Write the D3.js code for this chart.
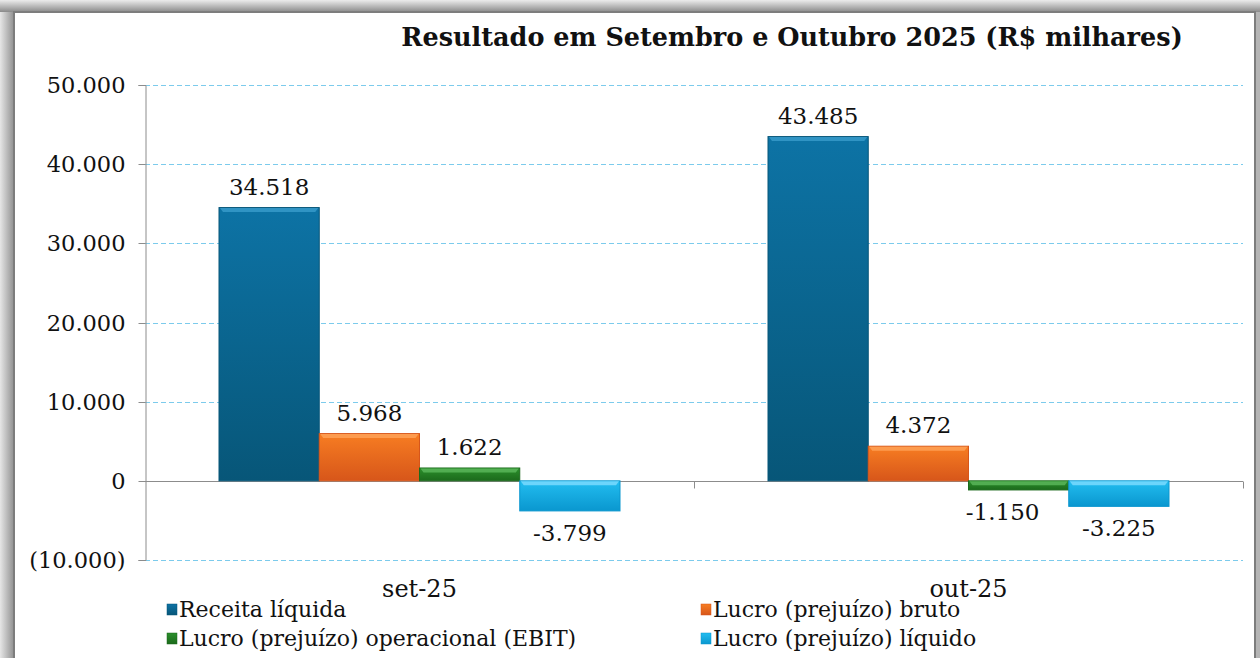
<!DOCTYPE html>
<html>
<head>
<meta charset="utf-8">
<script src="https://cdn.jsdelivr.net/npm/d3@7"></script>
<style>
	body { margin: 0; background: #fff; }
	svg { display: block; }
	text { font-family: "DejaVu Serif", serif; fill: #111; }
</style>
</head>
<body>
<div id="chart"></div>
<script>
// data
let categories = ["set-25", "out-25"];
let seriesNames = ["Receita líquida", "Lucro (prejuízo) bruto", "Lucro (prejuízo) operacional (EBIT)", "Lucro (prejuízo) líquido"];
let receita = [34518, 43485];
let bruto = [5968, 4372];
let ebit = [1622, -1150];
let liquido = [-3799, -3225];
let yTicks = [-10000, 0, 10000, 20000, 30000, 40000, 50000];
let titleText = "Resultado em Setembro e Outubro 2025 (R$ milhares)";

let colors = [
	{top: "#0d73a5", bottom: "#075678", light: "#3a9ccc"},
	{top: "#f77d22", bottom: "#d7561a", light: "#ffa45a"},
	{top: "#2b8f2b", bottom: "#1c6a1c", light: "#5cb85c"},
	{top: "#22bdf0", bottom: "#0a97cf", light: "#7fdcff"}
];

var width = 1260, height = 658;
var margin = {top: 85, right: 17, bottom: 97, left: 145};

var locale = d3.formatLocale({decimal: ",", thousands: ".", grouping: [3], currency: ["R$", ""], minus: "-"});
var fmt = locale.format(",.0f");

var svg = d3.select("#chart").append("svg")
	.attr("width", width)
	.attr("height", height);

var defs = svg.append("defs");

// frame gradients
var fg = defs.append("linearGradient").attr("id", "frameLeft").attr("x1", 0).attr("x2", 1).attr("y1", 0).attr("y2", 0);
fg.append("stop").attr("offset", "0%").attr("stop-color", "#e6e6e6");
fg.append("stop").attr("offset", "100%").attr("stop-color", "#8a8a8a");
var ft = defs.append("linearGradient").attr("id", "frameTop").attr("x1", 0).attr("x2", 0).attr("y1", 0).attr("y2", 1);
ft.append("stop").attr("offset", "0%").attr("stop-color", "#ececec");
ft.append("stop").attr("offset", "100%").attr("stop-color", "#8a8a8a");

colors.forEach(function(c, i) {
	var g = defs.append("linearGradient").attr("id", "bar" + i)
		.attr("x1", 0).attr("x2", 0).attr("y1", 0).attr("y2", 1);
	g.append("stop").attr("offset", "0%").attr("stop-color", c.top);
	g.append("stop").attr("offset", "100%").attr("stop-color", c.bottom);
});

// outer frame
svg.append("rect").attr("x", 0).attr("y", 0).attr("width", width).attr("height", height).attr("fill", "#b5b5b5");
svg.append("rect").attr("x", 0).attr("y", 0).attr("width", 15).attr("height", height).attr("fill", "url(#frameLeft)");
svg.append("rect").attr("x", 0).attr("y", 0).attr("width", width).attr("height", 12).attr("fill", "url(#frameTop)");
svg.append("rect").attr("x", 14).attr("y", 12).attr("width", 1241).attr("height", 660)
	.attr("fill", "#fff").attr("stroke", "#7d7d7d").attr("stroke-width", 2);

var plotW = width - margin.left - margin.right;
var x0 = d3.scaleBand().domain(categories).range([margin.left, margin.left + plotW]);
var x1 = d3.scaleBand().domain(d3.range(4)).range([0, 401]);
var y = d3.scaleLinear().domain([-10000, 50000]).range([560, 85]);
var py = d => Math.round(y(d)) + 0.5;

// gridlines
svg.append("g").selectAll("line")
	.data(yTicks.filter(d => d !== 0))
	.enter().append("line")
	.attr("x1", margin.left).attr("x2", margin.left + plotW)
	.attr("y1", d => py(d)).attr("y2", d => py(d))
	.attr("stroke", "#7ccbec").attr("stroke-width", 1).attr("stroke-dasharray", "5,3");

// y axis
var yAxis = d3.axisLeft(y).tickValues(yTicks).tickSize(7).tickPadding(13)
	.tickFormat(d => d < 0 ? "(" + fmt(-d) + ")" : fmt(d));
var gy = svg.append("g").attr("transform", "translate(" + (margin.left + 0.5) + ",0)").call(yAxis);
gy.selectAll(".tick").attr("transform", d => "translate(0," + py(d) + ")");
gy.select(".domain").attr("stroke", "#8c8c8c");
gy.selectAll(".tick line").attr("stroke", "#8c8c8c");
gy.selectAll(".tick text").style("font-size", "22.5px").style("font-family", "DejaVu Serif").attr("fill", "#111");

// zero line + category ticks
svg.append("line").attr("x1", margin.left).attr("x2", margin.left + plotW)
	.attr("y1", py(0)).attr("y2", py(0)).attr("stroke", "#8c8c8c");
svg.append("g").selectAll("line")
	.data(categories.slice(1).map(c => x0(c)).concat([margin.left + plotW]))
	.enter().append("line")
	.attr("x1", d => Math.round(d) + 0.5).attr("x2", d => Math.round(d) + 0.5)
	.attr("y1", py(0)).attr("y2", py(0) + 7)
	.attr("stroke", "#8c8c8c");

// category labels
svg.append("g").selectAll("text")
	.data(categories).enter().append("text")
	.attr("x", d => x0(d) + x0.bandwidth() / 2)
	.attr("y", 597)
	.attr("text-anchor", "middle")
	.style("font-size", "24px")
	.text(d => d);

// bars
let series = [receita, bruto, ebit, liquido];
var rows = [];
categories.forEach(function(c, ci) {
	series.forEach(function(s, si) {
		rows.push({cat: c, idx: si, value: s[ci]});
	});
});
var groupOffset = (x0.bandwidth() - 401) / 2;

var bars = svg.append("g").selectAll("g")
	.data(rows).enter().append("g")
	.attr("transform", d => "translate(" + (x0(d.cat) + groupOffset + x1(d.idx)) + ",0)");

bars.append("rect")
	.attr("x", 0)
	.attr("y", d => Math.min(y(d.value), y(0)))
	.attr("width", x1.bandwidth())
	.attr("height", d => Math.abs(y(d.value) - y(0)))
	.attr("fill", d => "url(#bar" + d.idx + ")")
	.attr("stroke", d => colors[d.idx].bottom)
	.attr("stroke-width", 1);

// bevel highlight on top edge
bars.append("path")
	.attr("d", function(d) {
		var t = Math.min(y(d.value), y(0)) + 0.5;
		var w = x1.bandwidth();
		var h = Math.min(4, Math.abs(y(d.value) - y(0)) / 2);
		return "M1," + t + "L" + (w - 1) + "," + t + "L" + (w - 4) + "," + (t + h) + "L4," + (t + h) + "Z";
	})
	.attr("fill", d => colors[d.idx].light)
	.attr("opacity", 0.8);

// data labels
var labelShift = [0, 0, -16, 0];
bars.append("text")
	.attr("x", d => x1.bandwidth() / 2 + (d.value < 0 ? labelShift[d.idx] : 0))
	.attr("y", d => d.value >= 0 ? y(d.value) - 13 : y(d.value) + 30)
	.attr("text-anchor", "middle")
	.style("font-size", "23px")
	.text(d => fmt(d.value));

// title
svg.append("text")
	.attr("x", 792)
	.attr("y", 46)
	.attr("text-anchor", "middle")
	.style("font-size", "25.5px")
	.style("font-weight", "bold")
	.attr("fill", "#000")
	.text(titleText);

// legend
var legendPos = [[167, 617], [701, 617], [167, 646], [701, 646]];
var legend = svg.append("g").selectAll("g")
	.data(seriesNames).enter().append("g")
	.attr("transform", (d, i) => "translate(" + legendPos[i][0] + "," + legendPos[i][1] + ")");
legend.append("rect")
	.attr("x", 0).attr("y", -13)
	.attr("width", 10).attr("height", 11)
	.attr("fill", (d, i) => "url(#bar" + i + ")")
	.attr("stroke", (d, i) => colors[i].bottom).attr("stroke-width", 0.5);
legend.append("text")
	.attr("x", 12).attr("y", 0)
	.style("font-size", "22px")
	.text(d => d);
</script>
</body>
</html>
